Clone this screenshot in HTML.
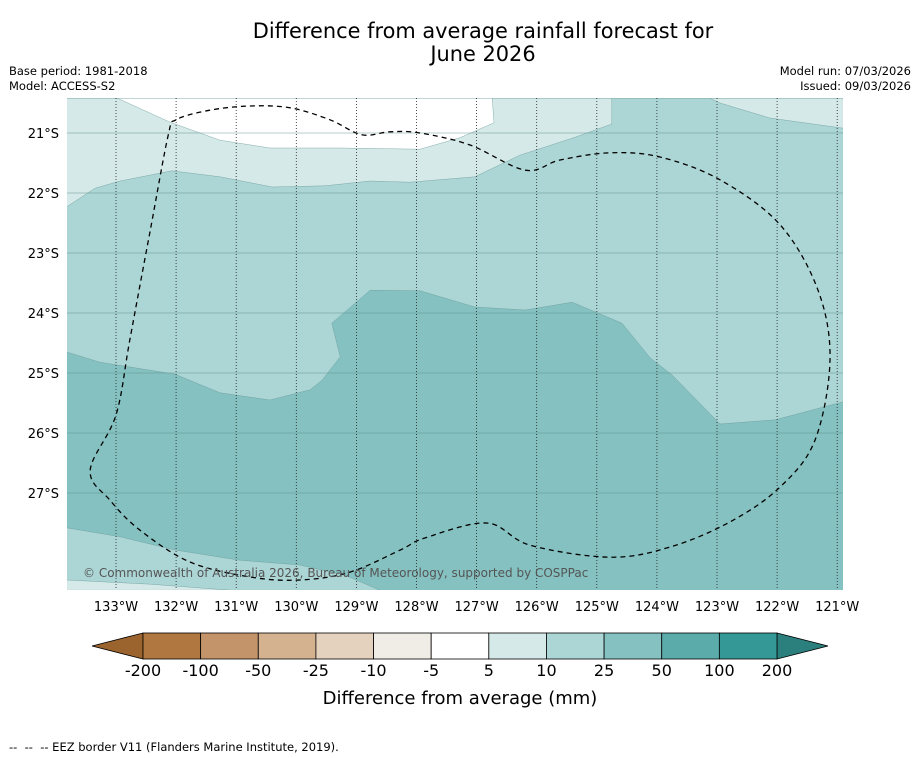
<!DOCTYPE html>
<html><head><meta charset="utf-8"><style>
body{margin:0;background:#fff;font-family:"Liberation Sans","DejaVu Sans",sans-serif;}
#wrap{position:relative;width:919px;height:758px;overflow:hidden;}
svg text{font-family:"DejaVu Sans","Liberation Sans",sans-serif;}
</style></head><body>
<div id="wrap">
<svg id="svg" width="919" height="758" xmlns="http://www.w3.org/2000/svg">
<text x="483" y="38" font-size="20.9" text-anchor="middle">Difference from average rainfall forecast for</text>
<text x="483" y="61" font-size="20.9" text-anchor="middle">June 2026</text>
<text x="9" y="75" font-size="11.5">Base period: 1981-2018</text>
<text x="9" y="90" font-size="11.5">Model: ACCESS-S2</text>
<text x="911" y="75" font-size="11.5" text-anchor="end">Model run: 07/03/2026</text>
<text x="911" y="90" font-size="11.5" text-anchor="end">Issued: 09/03/2026</text>
<g id="map"></g>
<g id="cbar"></g>
<text x="460" y="704" font-size="18" text-anchor="middle">Difference from average (mm)</text>
<text x="9" y="751" font-size="11.5" xml:space="preserve">--  --  -- EEZ border V11 (Flanders Marine Institute, 2019).</text>
</svg></div>
<script>
const lonTicks=[-133,-132,-131,-130,-129,-128,-127,-126,-125,-124,-123,-122,-121];
const latTicks=[-21,-22,-23,-24,-25,-26,-27];
const cbLabels=["-200","-100","-50","-25","-10","-5","5","10","25","50","100","200"];
const cbColors=["#b07840","#c3946a","#d4b290","#e5d2be","#f0ece6","#ffffff","#d5e9e8","#acd5d5","#84c1c0","#5aabaa","#339896"];
const regionMid=[[-133.82,-24.65],[-133.27,-24.82],[-132.02,-25.02],[-131.27,-25.33],[-130.44,-25.45],[-129.77,-25.28],[-129.57,-25.12],[-129.27,-24.73],[-129.41,-24.17],[-128.77,-23.62],[-127.94,-23.63],[-127.03,-23.90],[-126.19,-23.95],[-125.41,-23.82],[-124.58,-24.17],[-124.11,-24.75],[-123.75,-25.03],[-122.95,-25.85],[-122.03,-25.78],[-120.90,-25.48],[-120.90,-20.42],[-133.82,-20.42]];
const regionBottom=[[-133.82,-27.58],[-132.93,-27.73],[-132.02,-27.95],[-130.94,-28.12],[-129.94,-28.20],[-129.19,-28.37],[-128.61,-28.62],[-133.82,-28.62]];
const regionBottomLight=[[-133.82,-28.45],[-132.43,-28.52],[-131.10,-28.62],[-133.82,-28.62]];
const regionTopLight=[[-133.82,-22.23],[-133.35,-21.92],[-132.93,-21.80],[-132.07,-21.63],[-131.27,-21.73],[-130.40,-21.90],[-129.52,-21.88],[-128.77,-21.80],[-128.11,-21.82],[-127.03,-21.73],[-126.28,-21.37],[-125.36,-21.07],[-124.75,-20.85],[-124.75,-20.42],[-133.82,-20.42]];
const regionTopRight=[[-123.12,-20.42],[-122.95,-20.50],[-122.12,-20.75],[-120.90,-20.92],[-120.90,-20.42]];
const regionWhite=[[-132.98,-20.42],[-132.10,-20.82],[-131.27,-21.12],[-130.44,-21.25],[-129.27,-21.25],[-127.94,-21.27],[-127.28,-21.08],[-126.71,-20.83],[-126.74,-20.42]];
const eez=[[-132.00,-20.78],[-132.13,-21.03],[-132.43,-22.62],[-132.77,-24.45],[-133.00,-25.70],[-133.43,-26.62],[-133.10,-27.12],[-132.60,-27.62],[-131.77,-28.15],[-130.77,-28.40],[-129.94,-28.45],[-129.11,-28.32],[-128.27,-27.95],[-127.86,-27.75],[-126.83,-27.50],[-126.11,-27.87],[-124.78,-28.07],[-123.78,-27.90],[-122.78,-27.48],[-121.95,-26.90],[-121.37,-26.12],[-121.12,-24.78],[-121.32,-23.62],[-121.95,-22.53],[-122.95,-21.78],[-123.95,-21.40],[-124.78,-21.33],[-125.61,-21.45],[-126.19,-21.62],[-127.11,-21.20],[-127.94,-21.00],[-128.44,-20.98],[-128.91,-21.03],[-129.44,-20.78],[-130.10,-20.58],[-130.77,-20.55],[-131.44,-20.62],[-132.00,-20.78]];

const NS="http://www.w3.org/2000/svg";
const X=lon=>116+(lon+133)*60.1;
const Y=lat=>133+(-21-lat)*60;
const L=67,R=843,T=98,B=590;
function mk(tag,attrs,parent){const e=document.createElementNS(NS,tag);for(const k in attrs)e.setAttribute(k,attrs[k]);parent.appendChild(e);return e;}
const map=document.getElementById('map');
const defs=mk('defs',{},map);
const cp=mk('clipPath',{id:'clip'},defs);
mk('rect',{x:L,y:T,width:R-L,height:B-T},cp);
const g=mk('g',{'clip-path':'url(#clip)'},map);
const bg=mk('rect',{x:L,y:T,width:R-L,height:B-T,fill:'#84c1c0'},g);


function poly(pts,fill,name){const p=mk('polygon',{points:pts.map(q=>X(q[0]).toFixed(1)+','+Y(q[1]).toFixed(1)).join(' '),fill:fill,stroke:'#6a9a99','stroke-width':0.4},g);

}
poly(regionMid,'#acd5d5','region-10-25-main');
poly(regionBottom,'#acd5d5','region-10-25-bottom');
poly(regionBottomLight,'#d5e9e8','region-5-10-bottom');
poly(regionTopLight,'#d5e9e8','region-5-10-top');
poly(regionTopRight,'#d5e9e8','region-5-10-topright');
poly(regionWhite,'#ffffff','region-neutral');
latTicks.forEach(v=>{const l=mk('line',{x1:L,x2:R,y1:Y(v),y2:Y(v),stroke:'#5d8e8d','stroke-width':0.8,'stroke-opacity':0.6},g);


const t=mk('text',{x:59,y:Y(v)+5,'font-size':13,'text-anchor':'end'},map);t.textContent=(-v)+'°S';

});
lonTicks.forEach(v=>{const l=mk('line',{x1:X(v),x2:X(v),y1:T,y2:B,stroke:'#222','stroke-width':0.8,'stroke-dasharray':'1,2'},g);


const t=mk('text',{x:X(v),y:611,'font-size':13,'text-anchor':'middle'},map);t.textContent=(-v)+'°W';

});
// smooth closed curve (Catmull-Rom)
const P=eez.slice(0,-1).map(q=>[X(q[0]),Y(q[1])]);
const n=P.length;let d='M'+P[0][0].toFixed(1)+','+P[0][1].toFixed(1);
for(let i=0;i<n;i++){const p0=P[(i-1+n)%n],p1=P[i],p2=P[(i+1)%n],p3=P[(i+2)%n];
d+=' C'+(p1[0]+(p2[0]-p0[0])/6).toFixed(1)+','+(p1[1]+(p2[1]-p0[1])/6).toFixed(1)+' '+(p2[0]-(p3[0]-p1[0])/6).toFixed(1)+','+(p2[1]-(p3[1]-p1[1])/6).toFixed(1)+' '+p2[0].toFixed(1)+','+p2[1].toFixed(1);}
const e=mk('path',{d:d,fill:'none',stroke:'#000','stroke-width':1.3,'stroke-dasharray':'5,4'},g);


const cr=mk('text',{x:83,y:577,'font-size':12,fill:'#555'},g);cr.textContent='© Commonwealth of Australia 2026, Bureau of Meteorology, supported by COSPPac';


const cb=document.getElementById('cbar');
const x0=143,x1=777,y0=633,y1=659,w=(x1-x0)/cbColors.length;
const lt=mk('polygon',{points:`92,646 ${x0},${y0} ${x0},${y1}`,fill:'#9b642f',stroke:'#000','stroke-width':0.8},cb);


const rt=mk('polygon',{points:`828,646 ${x1},${y0} ${x1},${y1}`,fill:'#2b7f7d',stroke:'#000','stroke-width':0.8},cb);


cbColors.forEach((c,i)=>{const r=mk('rect',{x:x0+i*w,y:y0,width:w,height:y1-y0,fill:c,stroke:'#000','stroke-width':0.8},cb);

});
cbLabels.forEach((s,i)=>{const t=mk('text',{x:x0+i*w,y:676,'font-size':16,'text-anchor':'middle'},cb);t.textContent=s;

});
</script>
</body></html>
